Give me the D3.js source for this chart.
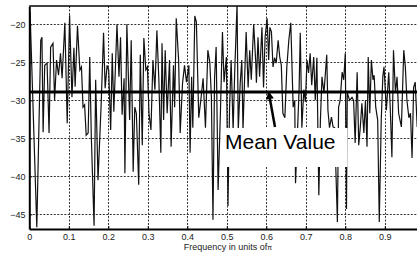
<!DOCTYPE html>
<html lang="en">
<head>
    <meta charset="utf-8">
    <style>
        body { margin: 0; background: #fff; }
        svg { display: block; }
        text { font-family: Arial, "Liberation Sans", sans-serif; }
    </style>
</head>
<body>
    <svg></svg>
    <script src="https://cdn.jsdelivr.net/npm/d3@7/dist/d3.min.js"></script>
    <script>
        // Spectrum (frequency in units of pi, level in dB)
        const freq = [
            0.002, 0.019, 0.029, 0.032, 0.035, 0.039, 0.045, 0.050, 0.054, 0.060, 0.064, 0.069, 0.074, 0.079, 0.083,
            0.090, 0.096, 0.102, 0.108, 0.113, 0.116, 0.122, 0.128, 0.132, 0.136, 0.140, 0.144, 0.149, 0.153, 0.157,
            0.164, 0.168, 0.174, 0.182, 0.188, 0.192, 0.197, 0.201, 0.206, 0.210, 0.214, 0.222, 0.227, 0.231, 0.235,
            0.240, 0.242, 0.247, 0.254, 0.258, 0.263, 0.267, 0.271, 0.277, 0.281, 0.286, 0.290, 0.295, 0.299, 0.303,
            0.308, 0.313, 0.318, 0.323, 0.328,
            0.333, 0.336, 0.340, 0.344, 0.349, 0.355, 0.359, 0.365, 0.368, 0.372, 0.378, 0.382, 0.388, 0.393, 0.398,
            0.404, 0.407, 0.411, 0.414, 0.419, 0.423, 0.429, 0.435, 0.440, 0.446, 0.452, 0.457, 0.461, 0.465, 0.469,
            0.473, 0.478, 0.484, 0.489, 0.493,
            0.499, 0.503, 0.507, 0.511, 0.516, 0.520, 0.526, 0.529, 0.534, 0.538, 0.541, 0.545, 0.549, 0.554, 0.558,
            0.562, 0.568, 0.573, 0.575, 0.579, 0.583, 0.589, 0.593, 0.597, 0.602, 0.606, 0.609, 0.613, 0.617, 0.621,
            0.625, 0.630, 0.634, 0.638, 0.642, 0.647, 0.652, 0.657,
            0.662, 0.668, 0.672, 0.674, 0.683, 0.686, 0.690, 0.695, 0.699, 0.703, 0.707, 0.711, 0.715, 0.720, 0.724,
            0.728, 0.733, 0.737, 0.741, 0.746, 0.753, 0.756, 0.760, 0.765, 0.769, 0.773, 0.780, 0.783, 0.787, 0.792,
            0.796, 0.800, 0.803, 0.805, 0.811, 0.817,
            0.821, 0.825, 0.830, 0.834, 0.838, 0.842, 0.847, 0.851, 0.855, 0.858, 0.862, 0.866, 0.870, 0.873, 0.877,
            0.882, 0.886, 0.891, 0.895, 0.898, 0.904, 0.910, 0.914, 0.918, 0.922, 0.927, 0.931, 0.935, 0.942, 0.948,
            0.952, 0.956, 0.961, 0.965, 0.969, 0.973, 0.977, 0.982, 0.989, 0.997
        ];
        const levelDb = [
            -18.4, -46.7, -22.1, -21.7, -34.2, -25.4, -25.1, -34.3, -23.0, -22.5, -30.0, -24.7, -26.7, -23.8, -27.1,
            -19.8, -33.0, -18.8, -29.6, -23.1, -28.2, -20.2, -26.0, -25.6, -30.9, -30.6, -34.6, -34.3, -24.3, -34.8,
            -46.5, -27.3, -40.5, -30.4, -21.1, -28.4, -25.4, -26.0, -33.9, -23.8, -31.5, -20.0, -26.9, -21.7, -31.9,
            -27.1, -39.6, -20.0, -32.6, -22.1, -39.4, -30.9, -31.7, -41.1, -24.0, -35.9, -21.8, -26.0, -25.6, -31.7,
            -33.9, -24.7, -28.6, -20.8, -27.3,
            -36.9, -22.5, -32.6, -23.4, -31.7, -24.7, -36.1, -25.4, -30.9, -19.2, -24.7, -34.3, -27.7, -25.4, -27.6,
            -25.4, -36.9, -26.9, -33.6, -18.9, -19.7, -32.3, -29.6, -27.1, -33.6, -23.4, -25.0, -29.6, -45.7, -27.1,
            -23.0, -41.8, -31.3, -21.0, -27.6,
            -24.3, -43.9, -30.9, -24.7, -33.9, -26.3, -17.3, -33.9, -27.7, -24.7, -33.9, -27.3, -21.0, -28.3, -23.4,
            -27.3, -20.0, -24.7, -27.7, -21.7, -26.9, -20.4, -28.3, -21.7, -19.2, -24.7, -20.4, -21.0, -25.6, -24.4,
            -25.1, -22.1, -24.3, -25.4, -31.7, -32.3, -25.6, -22.1,
            -19.8, -30.9, -30.0, -40.9, -28.6, -21.1, -33.6, -28.6, -30.2, -24.7, -26.4, -23.8, -28.0, -24.3, -30.0,
            -24.4, -42.5, -32.6, -26.9, -29.0, -24.0, -31.3, -33.6, -32.2, -33.5, -33.6, -46.0, -30.9, -30.0, -26.3,
            -27.3, -23.8, -44.3, -29.0, -30.0, -29.6,
            -30.0, -35.6, -26.3, -35.9, -33.5, -30.4, -34.3, -30.0, -36.1, -24.3, -31.7, -24.7, -27.3, -26.7, -30.9,
            -32.6, -46.0, -32.6, -26.9, -25.6, -31.3, -26.3, -31.3, -37.5, -23.4, -29.0, -26.9, -31.7, -33.5, -23.4,
            -25.6, -30.0, -32.3, -31.7, -37.6, -28.3, -27.6, -33.5, -30.0, -28.6
        ];
        const meanDb = -28.9;

        // the tick at 1 falls just past the right edge of the picture
        const xTicks = [0, 0.1, 0.2, 0.3, 0.4, 0.5, 0.6, 0.7, 0.8, 0.9];
        const yTicks = [-45, -40, -35, -30, -25, -20];

        // annotation: arrow from label up to the mean line (data coords)
        const arrowFrom = [0.622, -33.5];
        const arrowTo = [0.606, -28.9];

        const width = 417, height = 256;
        const margin = { left: 29.3, top: 6 };
        const plotW = 395, plotH = 223;

        const svg = d3.select("svg").attr("width", width).attr("height", height);

        const x = d3.scaleLinear().domain([0, 1]).range([margin.left, margin.left + plotW]);
        const y = d3.scaleLinear().domain([-46.93, -17.59]).range([margin.top + plotH, margin.top]);

        svg.append("defs").append("clipPath").attr("id", "plotClip")
            .append("rect")
            .attr("x", margin.left).attr("y", margin.top)
            .attr("width", plotW).attr("height", plotH);

        // Grid (dotted)
        const grid = svg.append("g").attr("stroke", "#333").attr("stroke-width", 1).attr("stroke-dasharray", "2,1.5");
        grid.selectAll(".vgrid").data(xTicks.filter(t => t > 0)).enter()
            .append("line")
            .attr("x1", d => Math.round(x(d)) + 0.5).attr("x2", d => Math.round(x(d)) + 0.5)
            .attr("y1", margin.top).attr("y2", margin.top + plotH);
        grid.selectAll(".hgrid").data(yTicks).enter()
            .append("line")
            .attr("x1", margin.left).attr("x2", margin.left + plotW)
            .attr("y1", d => Math.round(y(d)) + 0.5).attr("y2", d => Math.round(y(d)) + 0.5);

        // Spectrum line
        const lineGen = d3.line().x(d => x(d[0])).y(d => y(d[1]));
        svg.append("path")
            .datum(d3.zip(freq, levelDb))
            .attr("clip-path", "url(#plotClip)")
            .attr("fill", "none")
            .attr("stroke", "#111")
            .attr("stroke-width", 1.2)
            .attr("stroke-linejoin", "miter")
            .attr("d", lineGen);

        // Mean line
        svg.append("line")
            .attr("x1", x(0)).attr("x2", x(1))
            .attr("y1", y(meanDb)).attr("y2", y(meanDb))
            .attr("stroke", "#000").attr("stroke-width", 3);

        // Label with white background
        const label = svg.append("text")
            .attr("x", 225).attr("y", 149)
            .attr("font-size", 21)
            .attr("fill", "#000")
            .text("Mean Value");
        const bb = label.node().getBBox();
        svg.insert("rect", "text")
            .attr("x", bb.x - 4).attr("y", bb.y - 2)
            .attr("width", bb.width + 16).attr("height", bb.height + 16)
            .attr("fill", "#fff");

        // Arrow
        svg.append("defs").append("marker")
            .attr("id", "head")
            .attr("viewBox", "0 0 10 10")
            .attr("refX", 9).attr("refY", 5)
            .attr("markerUnits", "userSpaceOnUse")
            .attr("markerWidth", 9).attr("markerHeight", 8)
            .attr("orient", "auto")
            .append("path").attr("d", "M0,0 L10,5 L0,10 Z").attr("fill", "#000");
        svg.append("line")
            .attr("x1", x(arrowFrom[0])).attr("y1", y(arrowFrom[1]))
            .attr("x2", x(arrowTo[0])).attr("y2", y(arrowTo[1]))
            .attr("stroke", "#000").attr("stroke-width", 2.5)
            .attr("marker-end", "url(#head)");

        // Axes
        const xAxis = svg.append("g")
            .attr("transform", `translate(0, ${margin.top + plotH})`)
            .call(d3.axisBottom(x).tickValues(xTicks).tickSizeInner(-3).tickSizeOuter(0).tickPadding(4.3)
                .tickFormat(d => String(d)));
        const yAxis = svg.append("g")
            .attr("transform", `translate(${margin.left}, 0)`)
            .call(d3.axisLeft(y).tickValues(yTicks).tickSizeInner(-3).tickSizeOuter(0).tickPadding(3.8));

        [xAxis, yAxis].forEach(ax => {
            ax.attr("font-family", null).attr("font-size", null);
            ax.select(".domain").attr("stroke", "#000").attr("stroke-width", 2);
            ax.selectAll(".tick line").attr("stroke", "#000");
            ax.selectAll(".tick text").attr("font-size", 9).attr("fill", "#222");
        });

        // Top border
        svg.append("line")
            .attr("x1", margin.left).attr("x2", margin.left + plotW)
            .attr("y1", margin.top).attr("y2", margin.top)
            .attr("stroke", "#000").attr("stroke-width", 1.5);

        // Axis title
        const title = svg.append("text")
            .attr("x", 228).attr("y", 249.7)
            .attr("text-anchor", "middle")
            .attr("font-size", 9)
            .attr("fill", "#222");
        title.append("tspan").text("Frequency in units of");
        title.append("tspan").attr("font-size", 7).text("π");
    </script>
</body>
</html>
